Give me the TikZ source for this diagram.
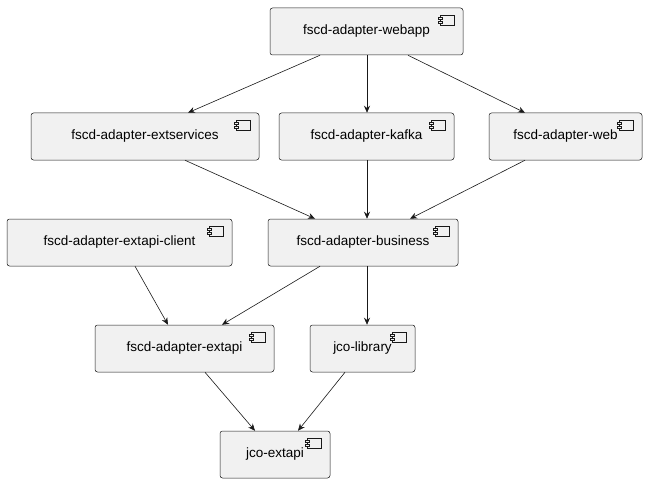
\documentclass[tikz,border=0pt]{standalone}
\usepackage{fontspec}
\setmainfont{Liberation Sans}
\usetikzlibrary{arrows.meta}
\begin{document}
\begin{tikzpicture}[x=1pt,y=-1pt,
  comp/.style={draw=black!90,fill=black!5.5,rounded corners=2.5pt,line width=0.5pt,inner sep=0pt,font=\fontsize{13.5}{16}\selectfont},
  icon/.style={draw=black!90,fill=black!5.5,line width=0.5pt},
  arr/.style={-{Stealth[length=7pt,width=6pt]},line width=0.6pt,black!90}]
\useasboundingbox (0,0) rectangle (658,484);
\newcommand{\mycomp}[6]{%
  \node[comp,minimum width={#4-#2},minimum height={#5-#3}] (#1) at ({(#2+#4)/2},{(#3+#5)/2}) {#6};
  \draw[icon] ({#4-23},{#3+7}) rectangle ({#4-9},{#3+17});
  \draw[icon] ({#4-25},{#3+9}) rectangle ({#4-21},{#3+11});
  \draw[icon] ({#4-25},{#3+13}) rectangle ({#4-21},{#3+15});}
\mycomp{webapp}{270}{8}{463}{55}{fscd-adapter-webapp}
\mycomp{ext}{31}{113}{259}{160}{fscd-adapter-extservices}
\mycomp{kafka}{279}{113}{454}{160}{fscd-adapter-kafka}
\mycomp{web}{489}{113}{642}{160}{fscd-adapter-web}
\mycomp{client}{7}{219}{232}{266}{fscd-adapter-extapi-client}
\mycomp{bus}{268}{219}{458}{266}{fscd-adapter-business}
\mycomp{extapi}{95}{325}{274}{372}{fscd-adapter-extapi}
\mycomp{jcolib}{310}{325}{415}{372}{jco-library}
\mycomp{jcoext}{220}{431}{330}{478}{jco-extapi}
\draw[arr] (webapp.south -| 320,0) -- (ext.north -| 188,0);
\draw[arr] (webapp.south -| 367,0) -- (kafka.north -| 367,0);
\draw[arr] (webapp.south -| 408,0) -- (web.north -| 525,0);
\draw[arr] (ext.south -| 185,0) -- (bus.north -| 315,0);
\draw[arr] (kafka.south -| 367,0) -- (bus.north -| 367,0);
\draw[arr] (web.south -| 525,0) -- (bus.north -| 410,0);
\draw[arr] (client.south -| 135,0) -- (extapi.north -| 168,0);
\draw[arr] (bus.south -| 320,0) -- (extapi.north -| 222,0);
\draw[arr] (bus.south -| 367,0) -- (jcolib.north -| 367,0);
\draw[arr] (extapi.south -| 205,0) -- (jcoext.north -| 255,0);
\draw[arr] (jcolib.south -| 345,0) -- (jcoext.north -| 298,0);
\end{tikzpicture}
\end{document}
